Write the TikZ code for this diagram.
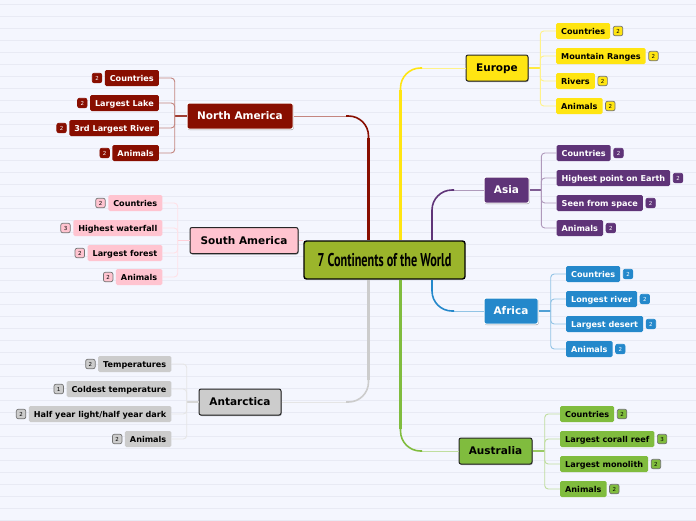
\documentclass[tikz,border=0pt]{standalone}
\usepackage{fontspec}
\setmainfont{DejaVu Sans}
\newfontfamily\rootfont[FakeStretch=0.66]{PT Sans}
\usetikzlibrary{positioning,shadows}
\definecolor{bgcol}{HTML}{F4F6FE}
\definecolor{linecol}{HTML}{E8EAF4}
\definecolor{rootcol}{HTML}{9BB52B}
\definecolor{nacol}{HTML}{880E00}
\definecolor{sacol}{HTML}{FFC4D0}
\definecolor{ancol}{HTML}{CCCCCC}
\definecolor{eucol}{HTML}{FFE512}
\definecolor{ascol}{HTML}{5F3478}
\definecolor{afcol}{HTML}{2488CB}
\definecolor{aucol}{HTML}{80BC3E}
\tikzset{
  mmshadow/.style={drop shadow={shadow xshift=0.6pt,shadow yshift=-1pt,fill=black,opacity=.35}},
  topic/.style={fill=#1, rounded corners=2pt, line width=1pt, inner sep=0pt, minimum height=26pt,
    text height=9pt, text depth=2pt, font=\fontsize{10.5}{13}\selectfont\bfseries, mmshadow},
  subtopic/.style={fill=#1, rounded corners=1.5pt, inner sep=0pt, minimum height=16pt,
    text height=7.5pt, text depth=1.5pt, font=\fontsize{8.1}{10}\selectfont\bfseries},
  badge/.style={fill=#1, rounded corners=2pt, line width=.7pt, inner sep=0pt, minimum size=9.5pt,
    font=\fontsize{5.5}{6}\selectfont},
  branch/.style={draw=#1!50!white, line width=.9pt, rounded corners=3.5pt},
  stub/.style={draw=#1!80!white, line width=1.2pt}
}
\begin{document}
\begin{tikzpicture}[x=1pt, y=-1pt]
  \useasboundingbox (0,0) rectangle (696,520);
  \fill[bgcol] (0,0) rectangle (696,520);
  \foreach \k in {0,...,43}{
    \draw[linecol, line width=.9pt] (0,4+12*\k) -- (696,4+12*\k);
  }
  % main nodes
  \node[draw=black, fill=rootcol, rounded corners=2.5pt, line width=1.4pt, minimum width=161pt, minimum height=38pt,
    inner sep=0pt, font=\fontsize{18.5}{20}\selectfont\rootfont\bfseries] (root) at (384.5,260) {7 Continents of the World};
  \node[topic=nacol, draw=white, text=white, minimum width=106pt] (na) at (240,116) {North America};
  \node[topic=sacol, draw=black!85, minimum width=108pt] (sa) at (244,240.5) {South America};
  \node[topic=ancol, draw=black!85, minimum width=82pt] (an) at (240,402) {Antarctica};
  \node[topic=eucol, draw=black!85, minimum width=62pt] (eu) at (497,68) {Europe};
  \node[topic=ascol, draw=white, text=white, minimum width=45pt] (as) at (506.5,190) {Asia};
  \node[topic=afcol, draw=white, text=white, minimum width=54pt] (af) at (511,311) {Africa};
  \node[topic=aucol, draw=black!85, minimum width=73pt] (au) at (495.5,451) {Australia};
  % trunks
  \foreach \nd/\side/\col/\ax/\ay/\bx/\by/\rt in {na/east/nacol/346/116/368.5/138/north, an/east/ancol/346/402/368.5/380/south,
      eu/west/eucol/422/68/400.5/90/north, as/west/ascol/454/190/432/212/north,
      af/west/afcol/454/311/432/289/south, au/west/aucol/422/451/400.5/429/south}{
    \coordinate (\nd a) at (\ax,\ay);
    \coordinate (\nd b) at (\bx,\by);
    \draw[\col!50!white, line width=1pt] (\nd.\side) -- (\nd a);
    \draw[\col, line width=1.6pt, rounded corners=20pt] (\nd a) -| (\nd b);
    \draw[\col, line width=2.7pt] (\nd b) -- (\nd b |- root.\rt);
  }
  \draw[sacol, line width=1pt] (sa.east) -- (sa.east -| root.west);
  % left side
  \coordinate (nabus) at (174.7,116);
  \draw[stub=nacol] (na.west) -- (nabus);
  \foreach \i/\yy/\lab/\num in {1/78/Countries/2, 2/103/Largest Lake/2, 3/128/3rd Largest River/2, 4/153/Animals/2}{
    \node[subtopic=nacol, text=white, anchor=east, inner xsep=5pt] (na\i) at (159,\yy) {\lab};
    \node[badge=nacol, draw=nacol, text=white, left=2.5pt of na\i] (nab\i) {\num};
    \draw[branch=nacol] (na\i.east) -| (nabus);
  }
  \coordinate (sabus) at (177.7,240.5);
  \draw[stub=sacol] (sa.west) -- (sabus);
  \foreach \i/\yy/\lab/\num in {1/203/Countries/2, 2/228/Highest waterfall/3, 3/253/Largest forest/2, 4/277/Animals/2}{
    \node[subtopic=sacol, anchor=east, inner xsep=5pt] (sa\i) at (162.5,\yy) {\lab};
    \node[badge=sacol, draw=black!55, left=2.5pt of sa\i] (sab\i) {\num};
    \draw[branch=sacol] (sa\i.east) -| (sabus);
  }
  \coordinate (anbus) at (186.7,402);
  \draw[stub=ancol] (an.west) -- (anbus);
  \foreach \i/\yy/\lab/\num in {1/364/Temperatures/2, 2/389/Coldest temperature/1, 3/414/{Half year light/half year dark}/2, 4/439/Animals/2}{
    \node[subtopic=ancol, anchor=east, inner xsep=5pt] (an\i) at (171.5,\yy) {\lab};
    \node[badge=ancol, draw=black!55, left=2.5pt of an\i] (anb\i) {\num};
    \draw[branch=ancol] (an\i.east) -| (anbus);
  }
  % right side
  \coordinate (eubus) at (540.3,68);
  \draw[stub=eucol] (eu.east) -- (eubus);
  \foreach \i/\yy/\lab/\num in {1/31/Countries/2, 2/56/Mountain Ranges/2, 3/81/Rivers/2, 4/106/Animals/2}{
    \node[subtopic=eucol, anchor=west, inner xsep=5pt] (eu\i) at (556,\yy) {\lab};
    \node[badge=eucol, draw=black!55, right=2.5pt of eu\i] (eub\i) {\num};
    \draw[branch=eucol] (eu\i.west) -| (eubus);
  }
  \coordinate (asbus) at (541.3,190);
  \draw[stub=ascol] (as.east) -- (asbus);
  \foreach \i/\yy/\lab/\num in {1/153/Countries/2, 2/178/Highest point on Earth/2, 3/203/Seen from space/2, 4/228/Animals/2}{
    \node[subtopic=ascol, text=white, anchor=west, inner xsep=5pt] (as\i) at (556.5,\yy) {\lab};
    \node[badge=ascol, draw=ascol, text=white, right=2.5pt of as\i] (asb\i) {\num};
    \draw[branch=ascol] (as\i.west) -| (asbus);
  }
  \coordinate (afbus) at (550.7,311);
  \draw[stub=afcol] (af.east) -- (afbus);
  \foreach \i/\yy/\lab/\num in {1/274/Countries/2, 2/299/Longest river/2, 3/324/Largest desert/2, 4/349/Animals/2}{
    \node[subtopic=afcol, text=white, anchor=west, inner xsep=5pt] (af\i) at (566,\yy) {\lab};
    \node[badge=afcol, draw=afcol, text=white, right=2.5pt of af\i] (afb\i) {\num};
    \draw[branch=afcol] (af\i.west) -| (afbus);
  }
  \coordinate (aubus) at (544.7,451);
  \draw[stub=aucol] (au.east) -- (aubus);
  \foreach \i/\yy/\lab/\num in {1/414/Countries/2, 2/439/Largest corall reef/3, 3/464/Largest monolith/2, 4/489/Animals/2}{
    \node[subtopic=aucol, anchor=west, inner xsep=5pt] (au\i) at (560,\yy) {\lab};
    \node[badge=aucol, draw=black!55, right=2.5pt of au\i] (aub\i) {\num};
    \draw[branch=aucol] (au\i.west) -| (aubus);
  }
\end{tikzpicture}
\end{document}
